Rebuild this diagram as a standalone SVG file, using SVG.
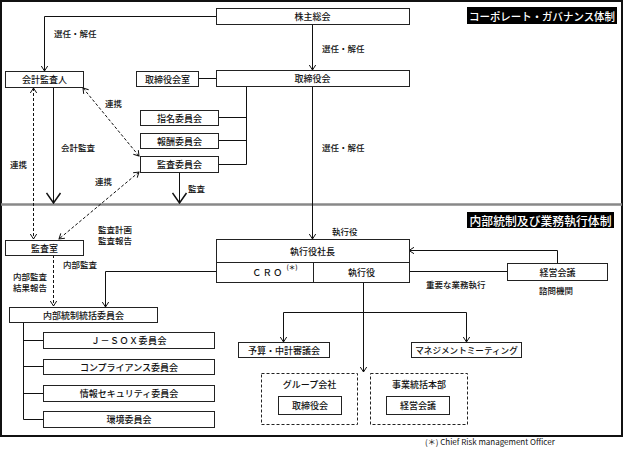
<svg xmlns="http://www.w3.org/2000/svg" width="625" height="449" viewBox="0 0 625 449">
<style>
text{font-family:"Noto Sans CJK JP","Noto Sans",sans-serif;fill:#111;font-weight:500;}
.b rect{fill:#fff;stroke:#222;stroke-width:1;}
.b text,.c{font-size:9px;text-anchor:middle;dominant-baseline:central;}
.l{font-size:8.5px;dominant-baseline:central;}
.t{fill:#fff;font-size:11px;text-anchor:middle;dominant-baseline:central;}
.d{fill:none;stroke:#222;stroke-width:1;stroke-dasharray:3 2;}
.ln{fill:none;stroke:#111;stroke-width:1;}
.dl{fill:none;stroke:#111;stroke-width:1;stroke-dasharray:3 2;}
</style>
<defs>
<marker id="a" viewBox="-7 -4 8 8" refX="0" refY="0" markerWidth="8" markerHeight="8" markerUnits="userSpaceOnUse" orient="auto-start-reverse">
<path d="M-5,-3.2 L0,0 L-5,3.2" fill="none" stroke="#111" stroke-width="1"/>
</marker>
<marker id="big" viewBox="-12 -8 13 16" refX="0" refY="0" markerWidth="13" markerHeight="16" markerUnits="userSpaceOnUse" orient="auto">
<path d="M-10,-7 L0,0 L-10,7" fill="none" stroke="#111" stroke-width="1.5"/>
</marker>
</defs>
<rect x="0" y="0" width="625" height="449" fill="#fff"/>
<rect x="1" y="1" width="621" height="435" fill="none" stroke="#111" stroke-width="2"/>
<line x1="1" y1="204.5" x2="622" y2="204.5" stroke="#888" stroke-width="2.5"/>

<g id="title1"><rect x="467" y="7" width="150" height="17" fill="#000"/><text class="t" x="542" y="15.5" textLength="146" lengthAdjust="spacingAndGlyphs">コーポレート・ガバナンス体制</text></g>
<g id="title2"><rect x="467" y="212" width="147" height="16" fill="#000"/><text class="t" x="540.5" y="220" style="font-size:12px" textLength="142" lengthAdjust="spacingAndGlyphs">内部統制及び業務執行体制</text></g>

<g id="connectors">
<path class="ln" d="M216,16.5 H44.5 V71" marker-end="url(#a)"/>
<path class="ln" d="M312.5,24 V70" marker-end="url(#a)"/>
<path class="ln" d="M198,78.5 H216"/>
<path class="ln" d="M246.5,86 V164.5 M218,117.5 H246.5 M218,140.5 H246.5 M218,164.5 H246.5"/>
<path class="ln" d="M312.5,86 V239" marker-end="url(#a)"/>
<path class="ln" d="M53.5,87 V203" stroke-width="1.5" marker-end="url(#big)"/>
<path class="ln" d="M179.5,172 V203" stroke-width="1.5" marker-end="url(#big)"/>
<path class="dl" d="M83,88 L139,156" marker-start="url(#a)" marker-end="url(#a)"/>
<path class="dl" d="M33.5,88 V239" marker-start="url(#a)" marker-end="url(#a)"/>
<path class="dl" d="M139,172 L59,239" marker-start="url(#a)" marker-end="url(#a)"/>
<path class="dl" d="M53.5,255 V306" marker-end="url(#a)"/>
<path class="ln" d="M216,271.5 H105.5 V307" marker-end="url(#a)"/>
<path class="ln" d="M23.5,322 V419.5 M23.5,340.5 H43 M23.5,366.5 H43 M23.5,393.5 H43 M23.5,419.5 H43"/>
<path class="ln" d="M557.5,263 V250.5 H409" marker-end="url(#a)"/>
<path class="ln" d="M409,271.5 H507"/>
<path class="ln" d="M363.5,282 V372" marker-end="url(#a)"/>
<path class="ln" d="M363.5,312.5 H283.5 V342" marker-end="url(#a)"/>
<path class="ln" d="M363.5,312.5 H466.5 V342" marker-end="url(#a)"/>
</g>

<g class="b">
<g id="kabunushi"><rect x="216.5" y="8.5" width="193" height="16"/><text x="312.5" y="16.5">株主総会</text></g>
<g id="kaikei-kansanin"><rect x="5.5" y="71.5" width="78" height="16"/><text x="44.5" y="79.5">会計監査人</text></g>
<g id="torishimariyakukai-shitsu"><rect x="136.5" y="71.5" width="62" height="15"/><text x="167.5" y="79">取締役会室</text></g>
<g id="torishimariyakukai"><rect x="216.5" y="70.5" width="193" height="16"/><text x="312.5" y="78.5">取締役会</text></g>
<g id="shimei"><rect x="140.5" y="110.5" width="78" height="15"/><text x="179.5" y="118">指名委員会</text></g>
<g id="hoshu"><rect x="140.5" y="133.5" width="78" height="15"/><text x="179.5" y="141">報酬委員会</text></g>
<g id="kansa-iinkai"><rect x="140.5" y="156.5" width="78" height="16"/><text x="179.5" y="164.5">監査委員会</text></g>
<g id="kansashitsu"><rect x="5.5" y="240.5" width="78" height="15"/><text x="44.5" y="248">監査室</text></g>
<g id="naibutosei"><rect x="9.5" y="307.5" width="148" height="15"/><text x="83.5" y="315">内部統制統括委員会</text></g>
<g id="jsox"><rect x="43.5" y="332.5" width="171" height="16"/><text x="129" y="340.5" style="letter-spacing:0.5px">Ｊ－ＳＯＸ委員会</text></g>
<g id="compliance"><rect x="43.5" y="359.5" width="171" height="15"/><text x="129" y="367">コンプライアンス委員会</text></g>
<g id="joho"><rect x="43.5" y="385.5" width="171" height="16"/><text x="129" y="393.5">情報セキュリティ委員会</text></g>
<g id="kankyo"><rect x="43.5" y="411.5" width="171" height="16"/><text x="129" y="419.5">環境委員会</text></g>
<g id="shacho"><rect x="216.5" y="239.5" width="193" height="43"/><path d="M216.5,262.5 H409.5 M313.5,262.5 V282.5" fill="none" stroke="#222"/><text x="268" y="272.5" style="letter-spacing:1.5px">ＣＲＯ</text><text x="292" y="267" style="font-size:6.5px">(＊)</text><text x="312.5" y="251">執行役社長</text><text x="361.5" y="272.5">執行役</text></g>
<g id="keiei-kaigi"><rect x="507.5" y="263.5" width="100" height="17"/><text x="557.5" y="272">経営会議</text></g>
<g id="yosan"><rect x="238.5" y="342.5" width="91" height="15"/><text x="284" y="350">予算・中計審議会</text></g>
<g id="management"><rect x="411.5" y="342.5" width="110" height="15"/><text x="466.5" y="350" style="font-size:8.6px">マネジメントミーティング</text></g>
<g id="group"><rect class="d" x="261.5" y="373.5" width="96" height="51" style="fill:none;stroke-dasharray:3 2"/><text x="309.5" y="384">グループ会社</text><rect x="278.5" y="396.5" width="63" height="18"/><text x="310" y="405.5">取締役会</text></g>
<g id="jigyo"><rect class="d" x="370.5" y="373.5" width="97" height="51" style="fill:none;stroke-dasharray:3 2"/><text x="419" y="384">事業統括本部</text><rect x="386.5" y="396.5" width="63" height="18"/><text x="418" y="405.5">経営会議</text></g>
</g>

<g id="labels">
<text class="l" x="54" y="33">選任・解任</text>
<text class="l" x="322" y="48">選任・解任</text>
<text class="l" x="322" y="147">選任・解任</text>
<text class="l" x="105" y="103">連携</text>
<text class="l" x="61" y="147">会計監査</text>
<text class="l" x="10" y="164">連携</text>
<text class="l" x="95" y="181">連携</text>
<text class="l" x="188" y="188">監査</text>
<text class="l" x="98" y="229">監査計画</text>
<text class="l" x="98" y="240">監査報告</text>
<text class="l" x="63" y="264">内部監査</text>
<text class="l" x="13" y="276">内部監査</text>
<text class="l" x="13" y="287">結果報告</text>
<text class="l" x="332" y="231">執行役</text>
<text class="l" x="426" y="284">重要な業務執行</text>
<text class="l" x="539" y="290">諮問機関</text>
<text class="l" x="425" y="441" style="font-size:8px;font-weight:400">(＊) Chief Risk management Officer</text>
</g>
</svg>
